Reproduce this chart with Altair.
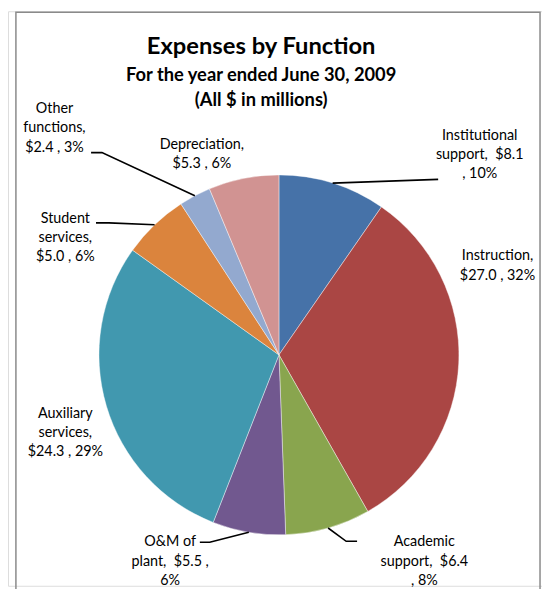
import altair as alt
import pandas as pd
import numpy as np

# ---------------- data ----------------
categories = ["Institutional support", "Instruction", "Academic support", "O&M of plant",
              "Auxiliary services", "Student services", "Other functions", "Depreciation"]
values = [8.1, 27.0, 6.4, 5.5, 24.3, 5.0, 2.4, 5.3]
percents = [10, 32, 8, 6, 29, 6, 3, 6]
colors = ["#4672A8", "#AA4644", "#89A54E", "#71588F", "#4198AF", "#DB843D", "#93A9CF", "#D19392"]

label_templates = [
    ["Institutional", "support,\u00a0 ${v}", ", {p}%"],
    ["Instruction,", "${v} , {p}%"],
    ["Academic", "support,\u00a0 ${v}", ", {p}%"],
    ["O&M of", "plant,\u00a0 ${v} ,", "{p}%"],
    ["Auxiliary", "services,", "${v} , {p}%"],
    ["Student", "services,", "${v} , {p}%"],
    ["Other", "functions,", "${v} , {p}%"],
    ["Depreciation,", "${v} , {p}%"],
]

title_lines = ["Expenses by Function", "For the year ended June 30, 2009", "(All $ in millions)"]

# ---------------- layout (page pixels) ----------------
W, H = 540, 581
CX, CY, R = 282, 355.5, 182
label_x = [485, 503, 429, 172, 66, 66, 55, 204]
label_y = [134, 256, 545, 545, 415, 218, 107, 143]
LINE_H = 19.5
leader_ends = {
    0: [(443, 178)],
    2: [(350, 544), (361, 544)],
    3: [(212, 545), (202, 545)],
    5: [(110, 222), (97, 222)],
    6: [(103, 151), (92, 151)],
}
title_x = 264
title_y = [44, 73, 98]
title_size = [24, 18.5, 18.5]

xs = alt.Scale(domain=[8, 8 + W], nice=False, zero=False)
ys = alt.Scale(domain=[8, 8 + H], nice=False, zero=False, reverse=True)

# ---------------- pie ----------------
pie_df = pd.DataFrame({"category": categories, "value": values, "order": range(len(values))})
pie = alt.Chart(pie_df).mark_arc(radius=R, stroke="#ffffff", strokeWidth=0.6, strokeOpacity=0.7).encode(
    theta=alt.Theta("value:Q", stack=True),
    color=alt.Color("category:N", scale=alt.Scale(domain=categories, range=colors), legend=None),
    order=alt.Order("order:Q"),
    x=alt.value(CX - 8),
    y=alt.value(CY - 8),
)

# ---------------- leader lines ----------------
total = sum(values)
cum = np.concatenate([[0], np.cumsum(values)])
rows = []
for i, pts in leader_ends.items():
    ang = (cum[i] + values[i] / 2) / total * 2 * np.pi
    sx, sy = CX + R * np.sin(ang), CY - R * np.cos(ang)
    allpts = [(sx, sy)] + pts
    for k, (px, py) in enumerate(allpts):
        rows.append({"id": i, "seq": k, "x": px, "y": py})
lead_df = pd.DataFrame(rows)
leaders = alt.Chart(lead_df).mark_line(color="#000000", strokeWidth=1.6).encode(
    x=alt.X("x:Q", scale=xs, axis=None),
    y=alt.Y("y:Q", scale=ys, axis=None),
    detail="id:N",
    order="seq:Q",
)

# ---------------- labels ----------------
trows = []
for i, tmpl in enumerate(label_templates):
    for k, line in enumerate(tmpl):
        trows.append({"x": label_x[i], "y": label_y[i] + k * LINE_H,
                      "text": line.format(v=f"{values[i]:.1f}", p=percents[i])})
lab_df = pd.DataFrame(trows)
labels = alt.Chart(lab_df).mark_text(font="Lato", fontSize=14.5, align="center",
                                     baseline="middle", color="#000000").encode(
    x=alt.X("x:Q", scale=xs, axis=None),
    y=alt.Y("y:Q", scale=ys, axis=None),
    text="text:N",
)

# ---------------- title ----------------
title_df = pd.DataFrame({"x": [title_x] * 3, "y": title_y, "text": title_lines, "fs": title_size})
title = alt.Chart(title_df).mark_text(font="Lato", fontWeight="bold", align="center",
                                      baseline="middle", color="#000000").encode(
    x=alt.X("x:Q", scale=xs, axis=None),
    y=alt.Y("y:Q", scale=ys, axis=None),
    text="text:N",
    size=alt.Size("fs:Q", scale=None),
)

# ---------------- frame ----------------
frame_df = pd.DataFrame({"x1": [16], "x2": [546], "y1": [9], "y2": [640]})
frame = alt.Chart(frame_df).mark_rect(fill=None, stroke="#8a8a8a", strokeWidth=1.5).encode(
    x=alt.X("x1:Q", scale=xs, axis=None),
    x2="x2:Q",
    y=alt.Y("y1:Q", scale=ys, axis=None),
    y2="y2:Q",
)

chart = alt.layer(frame, pie, leaders, labels, title).properties(
    width=W, height=H,
    autosize=alt.AutoSizeParams(type="none"),
    padding=0,
).configure_view(stroke=None).configure(background="#ffffff")

chart.save("out.html", embed_options={"renderer": "svg", "actions": False})
